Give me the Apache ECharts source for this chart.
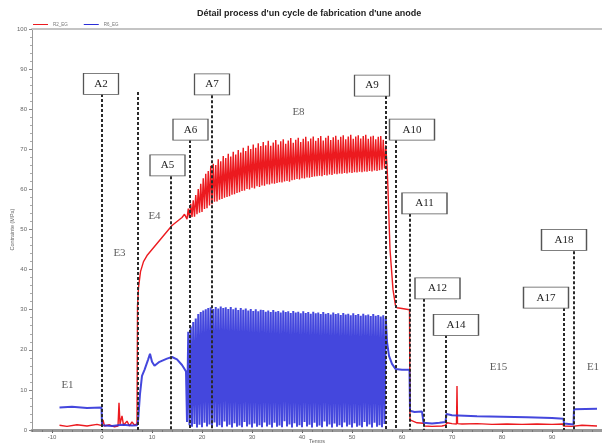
<!DOCTYPE html>
<html>
<head>
<meta charset="utf-8">
<script src="https://cdn.jsdelivr.net/npm/echarts@6.0.0/dist/echarts.min.js"></script>
<style>
  html, body { margin: 0; padding: 0; background: #fff; }
  #main { width: 602px; height: 443px; }
</style>
</head>
<body>
<div id="main"></div>
<script>
// R2_EG (red) : [temps, contrainte]
const redPoints = [
  [-8.5,1.2],[-7,0.9],[-5,1.3],[-3,1.0],[-1,1.4],[0,1.1],[0.2,2.5],[0.5,1.0],[1.5,1.3],[2.5,0.8],
  [3.2,1.0],[3.4,6.8],[3.6,1.5],[4,3.5],[4.3,1.2],[5,2.2],[5.5,1.0],[6,2.0],[6.5,1.2],[7,1.5],
  [7.1,31],[7.3,35.5],[7.7,39.5],[8.3,42],[9,43.5],[10,45],[11,46.5],[12,48],[13,49.5],[14,51],
  [15,52],[16,53],[16.5,53.8],
  [17,52.6],[17.25,55.2],[17.5,52.9],[17.75,56.4],[18,53.1],[18.25,57.3],[18.5,53.2],[18.75,58.6],
  [19,53.8],[19.25,60.1],[19.5,54.2],[19.75,61.4],[20,54.4],[20.25,62.8],[20.5,55.1],[20.75,63.9],
  [21,55.3],[21.25,64.6],[21.5,56.0],[21.75,65.9],[22,56.3],[22.25,66.4],[22.5,56.9],[22.75,66.1],
  [23,57.0],[23.25,67.5],[23.5,57.4],[23.75,67.0],[24,57.6],[24.25,68.3],[24.5,57.9],[24.75,67.8],
  [25,58.1],[25.25,68.9],[25.5,58.3],[25.75,68.2],[26,58.7],[26.25,69.4],[26.5,58.8],[26.75,68.7],
  [27,59.1],[27.25,69.8],[27.5,59.3],[27.75,69.2],[28,59.6],[28.25,70.4],[28.5,59.7],[28.75,69.6],
  [29,60.1],[29.25,70.9],[29.5,60.0],[29.75,70.1],[30,60.4],[30.25,71.2],[30.5,60.2],[30.75,70.4],
  [31,60.8],[31.25,71.5],[31.5,60.6],[31.75,70.8],[32,61.0],[32.25,71.8],[32.5,60.9],[32.75,71.0],
  [33,61.3],[33.25,72.1],[33.5,61.2],[33.75,70.9],[34,61.5],[34.25,71.7],[34.5,61.4],[34.75,72.3],
  [35,61.6],[35.25,71.2],[35.5,61.8],[35.75,72.0],[36,61.7],[36.25,72.5],[36.5,62.0],[36.75,71.4],
  [37,62.1],[37.25,72.2],[37.5,61.9],[37.75,72.8],[38,62.3],[38.25,71.6],[38.5,62.4],[38.75,72.4],
  [39,62.6],[39.25,72.9],[39.5,62.5],[39.75,71.8],[40,62.8],[40.25,72.6],[40.5,62.7],[40.75,73.1],
  [41,63.0],[41.25,72.0],[41.5,62.9],[41.75,72.7],[42,63.1],[42.25,73.2],[42.5,63.2],[42.75,72.1],
  [43,63.3],[43.25,72.8],[43.5,63.4],[43.75,73.3],[44,63.3],[44.25,72.2],[44.5,63.6],[44.75,72.9],
  [45,63.5],[45.25,73.4],[45.5,63.7],[45.75,72.3],[46,63.6],[46.25,73.0],[46.5,63.9],[46.75,73.4],
  [47,63.8],[47.25,72.4],[47.5,64.0],[47.75,73.1],[48,63.9],[48.25,73.5],[48.5,64.1],[48.75,72.5],
  [49,64.0],[49.25,73.2],[49.5,64.2],[49.75,73.6],[50,64.1],[50.25,72.6],[50.5,64.3],[50.75,73.2],
  [51,64.2],[51.25,73.5],[51.5,64.4],[51.75,72.7],[52,64.3],[52.25,73.3],[52.5,64.5],[52.75,73.6],
  [53,64.4],[53.25,72.6],[53.5,64.6],[53.75,73.2],[54,64.5],[54.25,73.4],[54.5,64.7],[54.75,72.5],
  [55,64.6],[55.25,73.1],[55.5,64.8],[55.75,73.3],[56,64.9],[56.25,72.4],[56.5,65.2],[56.75,71.0],
  [57,66],[57.2,60],[57.6,45],[58.2,35],[58.7,31],[59,30.5],[60,30.3],[61.5,30.0],
  [61.6,2.5],[62,2.2],[63,1.8],[64.3,1.7],[64.5,1.0],[66,0.9],[68,1.0],[68.7,1.2],[69,1.8],
  [70,1.6],[70.9,1.5],[71,11],[71.1,1.6],[72,1.5],[75,1.6],[78,1.4],[81,1.5],[84,1.4],[87,1.5],
  [90,1.4],[92.2,1.5],[92.3,1.0],[94,0.9],[96,1.2],[99,1.0]
];

// R6_EG (blue) : [temps, contrainte]
const bluePoints = [
  [-8.5,5.6],[-6,5.8],[-3,5.5],[-0.1,5.6],[0,1.2],[2,1.0],[4,1.3],[6,1.1],[7,1.2],[7.2,2],
  [7.6,9],[8,13.5],[8.5,15],[9.2,17.5],[9.6,19],[10,17],[10.5,16],[11.5,17],[13,17.8],[14,18.2],
  [15,17.6],[16,16.2],[16.5,15.2],[16.8,14.6],
  [17,2.0],[17.25,24.5],[17.5,1.2],[17.75,25.8],[18,0.8],[18.25,26.9],[18.5,1.5],[18.75,27.8],
  [19,0.6],[19.25,28.9],[19.5,1.3],[19.75,29.4],[20,0.7],[20.25,29.8],[20.5,1.8],[20.75,30.1],
  [21,0.9],[21.25,30.4],[21.5,1.4],[21.75,30.6],[22,0.6],[22.25,30.2],[22.5,1.9],[22.75,30.7],
  [23,0.8],[23.25,30.3],[23.5,1.2],[23.75,30.8],[24,0.7],[24.25,30.4],[24.5,2.1],[24.75,30.6],
  [25,0.9],[25.25,30.2],[25.5,1.3],[25.75,30.7],[26,0.6],[26.25,30.1],[26.5,1.7],[26.75,30.5],
  [27,0.8],[27.25,29.9],[27.5,1.1],[27.75,30.4],[28,0.7],[28.25,30.0],[28.5,2.0],[28.75,30.3],
  [29,0.9],[29.25,29.8],[29.5,1.4],[29.75,30.2],[30,0.6],[30.25,29.7],[30.5,1.6],[30.75,30.1],
  [31,0.8],[31.25,29.6],[31.5,1.2],[31.75,30.0],[32,0.7],[32.25,29.9],[32.5,1.9],[32.75,29.5],
  [33,0.9],[33.25,29.8],[33.5,1.3],[33.75,29.4],[34,0.6],[34.25,29.9],[34.5,1.8],[34.75,29.5],
  [35,0.8],[35.25,29.7],[35.5,1.1],[35.75,29.3],[36,0.7],[36.25,29.8],[36.5,2.2],[36.75,29.4],
  [37,0.9],[37.25,29.6],[37.5,1.4],[37.75,29.2],[38,0.6],[38.25,29.7],[38.5,1.7],[38.75,29.3],
  [39,0.8],[39.25,29.5],[39.5,1.2],[39.75,29.1],[40,0.7],[40.25,29.6],[40.5,2.0],[40.75,29.2],
  [41,0.9],[41.25,29.4],[41.5,1.3],[41.75,29.0],[42,0.6],[42.25,29.5],[42.5,1.8],[42.75,29.1],
  [43,0.8],[43.25,29.3],[43.5,1.1],[43.75,28.9],[44,0.7],[44.25,29.4],[44.5,2.1],[44.75,29.0],
  [45,0.9],[45.25,29.2],[45.5,1.4],[45.75,28.8],[46,0.6],[46.25,29.3],[46.5,1.6],[46.75,28.9],
  [47,0.8],[47.25,29.1],[47.5,1.2],[47.75,28.7],[48,0.7],[48.25,29.2],[48.5,1.9],[48.75,28.8],
  [49,0.9],[49.25,29.0],[49.5,1.3],[49.75,28.6],[50,0.6],[50.25,29.1],[50.5,1.7],[50.75,28.7],
  [51,0.8],[51.25,28.9],[51.5,1.1],[51.75,28.5],[52,0.7],[52.25,29.0],[52.5,2.0],[52.75,28.6],
  [53,0.9],[53.25,28.8],[53.5,1.4],[53.75,28.4],[54,0.6],[54.25,28.9],[54.5,1.8],[54.75,28.5],
  [55,0.8],[55.25,28.7],[55.5,1.2],[55.75,28.3],[56,0.7],[56.25,28.6],[56.5,1.5],[56.75,28.0],
  [57,22],[57.4,18.5],[58,16.5],[58.7,15.2],[60,15],[61.5,15],[61.6,4.8],[62.5,4.5],[64,4.6],
  [64.3,1.8],[66,1.6],[67.5,1.8],[68.7,2.0],[68.9,4.0],[70,3.7],[75,3.4],[80,3.3],[85,3.2],
  [90,3.0],[92.3,2.8],[92.4,1.6],[94.3,1.4],[94.4,5.2],[99,5.3]
];

// events (dashed lines + boxed labels)
const eventNames = ['A2', '', 'A5', 'A6', 'A7', 'A9', 'A10', 'A11', 'A12', 'A14', 'A17', 'A18'];
const eventTimes = [0, 7.1, 13.7, 17.5, 22, 56.8, 58.7, 61.5, 64.3, 68.7, 92.3, 94.3];
const eventTops = [83.8, 84.3, 63.3, 72.3, 83.5, 83.3, 72.3, 53.9, 32.7, 23.7, 30.4, 44.6];
const boxTimes = [-0.2, null, 13.1, 17.7, 22.0, 54.0, 62.0, 64.5, 67.1, 70.8, 88.8, 92.4];
const boxValues = [86.3, null, 66, 74.9, 86.2, 85.9, 74.9, 56.5, 35.3, 26.2, 33, 47.4];

// stages
const stageNames = ['E1', 'E3', 'E4', 'E8', 'E15', 'E1'];
const stageTimes = [-6.9, 3.5, 10.5, 39.3, 79.3, 98.2];
const stageValues = [11.2, 44.1, 53.4, 79.3, 15.7, 15.7];

const xTickLabels = [-10, 0, 10, 20, 30, 40, 50, 60, 70, 80, 90];

// small ticks every 2 units along the time axis
const xMinorTicks = [];
for (let t = -14; t <= 100; t += 2) xMinorTicks.push(t);

const chart = echarts.init(document.getElementById('main'));

const lineData = eventTimes.map((t, i) => [
  { coord: [t, eventTops[i]] },
  { coord: [t, 0] }
]);
lineData.push([{ coord: [67.5, 2] }, { coord: [67.5, -3] }]);

const boxData = [];
eventNames.forEach((n, i) => {
  if (!n) return;
  boxData.push({
    name: n,
    value: [boxTimes[i], boxValues[i]],
    symbolSize: [n.length > 2 ? 45 : 35, 21]
  });
});

const stageData = stageNames.map((n, i) => ({ name: n, value: [stageTimes[i], stageValues[i]] }));

chart.setOption({
  animation: false,
  backgroundColor: '#fff',
  title: {
    text: "Détail process d'un cycle de fabrication d'une anode",
    left: 197,
    top: 9,
    padding: 0,
    textStyle: { fontSize: 9, fontWeight: 'bold', color: '#222', fontFamily: 'Liberation Sans' }
  },
  legend: {
    data: ['R2_EG', 'R6_EG'],
    left: 33,
    top: 22,
    padding: 0,
    icon: 'rect',
    itemWidth: 15,
    itemHeight: 1,
    itemGap: 16,
    textStyle: { fontSize: 4.5, color: '#777' }
  },
  grid: { left: 32, right: 0, top: 29, bottom: 13, outerBoundsMode: 'none', containLabel: false },
  xAxis: [
    {
      type: 'value',
      min: -14,
      max: 100,
      name: 'Temps',
      nameLocation: 'middle',
      nameGap: 8,
      nameMoveOverlap: false,
      nameTextStyle: { fontSize: 5.5, color: '#666' },
      axisLine: { show: true, onZero: false, lineStyle: { color: '#999', width: 3 } },
      axisTick: { show: true, customValues: xTickLabels, length: 3, lineStyle: { color: '#555' } },
      axisLabel: { customValues: xTickLabels, fontSize: 6, color: '#666', margin: 4 },
      splitLine: { show: false }
    },
    {
      type: 'value',
      position: 'top',
      min: -14,
      max: 100,
      axisLine: { show: true, onZero: false, lineStyle: { color: '#c4c4c4', width: 2 } },
      axisTick: { show: false },
      axisLabel: { show: false },
      splitLine: { show: false }
    },
    {
      type: 'value',
      position: 'bottom',
      min: -14,
      max: 100,
      axisLine: { show: false, onZero: false },
      axisTick: { show: true, customValues: xMinorTicks, length: 2, lineStyle: { color: '#777' } },
      axisLabel: { show: false },
      splitLine: { show: false }
    }
  ],
  yAxis: {
    type: 'value',
    min: 0,
    max: 100,
    interval: 10,
    name: 'Contrainte (MPa)',
    nameLocation: 'middle',
    nameGap: 17,
    nameMoveOverlap: false,
    nameTextStyle: { fontSize: 5.5, color: '#666' },
    axisLine: { show: true, onZero: false, lineStyle: { color: '#999' } },
    axisTick: { show: true, length: 3, lineStyle: { color: '#888' } },
    minorTick: { show: true, splitNumber: 5, length: 2, lineStyle: { color: '#aaa' } },
    axisLabel: { fontSize: 6, color: '#666', margin: 5 },
    splitLine: { show: false }
  },
  series: [
    {
      name: 'R2_EG',
      type: 'line',
      data: redPoints,
      showSymbol: false,
      color: '#ec1a1f',
      lineStyle: { width: 1.4, color: '#ec1a1f' },
      z: 2
    },
    {
      name: 'R6_EG',
      type: 'line',
      data: bluePoints,
      showSymbol: false,
      color: '#2a2ed8',
      lineStyle: { width: 2, color: '#2a2ed8', opacity: 0.88 },
      z: 2
    },
    {
      name: 'stages',
      type: 'scatter',
      data: stageData,
      symbolSize: 1,
      clip: false,
      itemStyle: { color: 'transparent' },
      label: {
        show: true,
        position: 'inside',
        formatter: '{b}',
        fontFamily: 'Liberation Serif',
        fontSize: 11,
        color: '#333'
      },
      markLine: {
        silent: true,
        symbol: ['none', 'none'],
        label: { show: false },
        lineStyle: { type: [3, 2], width: 2, color: '#2a2a2a' },
        data: lineData
      },
      z: 3
    },
    {
      name: 'boxes',
      type: 'scatter',
      symbol: 'rect',
      data: boxData,
      clip: false,
      itemStyle: { color: '#fff', borderColor: '#555', borderWidth: 1, opacity: 1 },
      label: {
        show: true,
        position: 'inside',
        formatter: '{b}',
        fontFamily: 'Liberation Serif',
        fontSize: 11,
        color: '#222'
      },
      z: 5
    }
  ]
});
</script>
</body>
</html>
